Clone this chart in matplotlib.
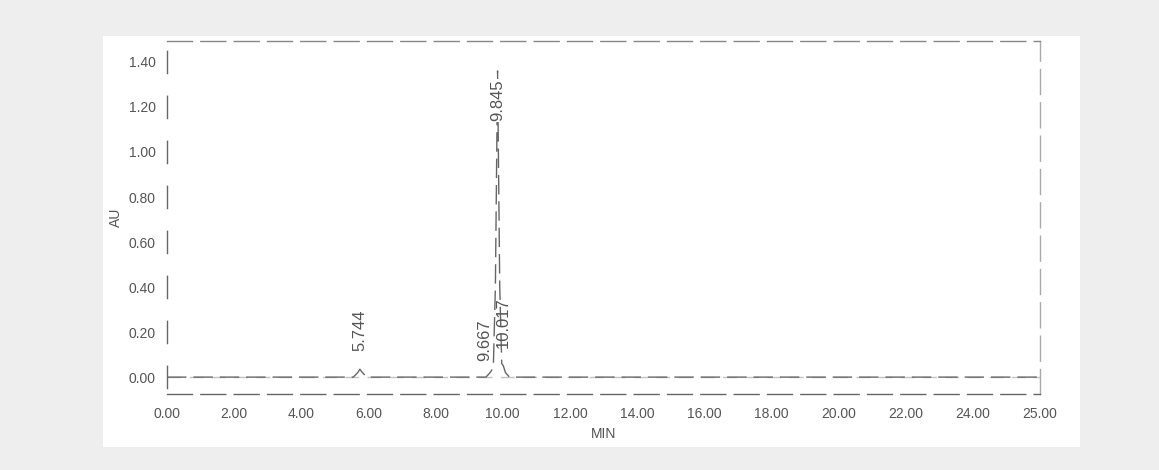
import matplotlib.pyplot as plt
import matplotlib.patches as patches

plt.rcParams['font.family'] = ['Liberation Sans', 'DejaVu Sans']

# chromatogram trace (minutes, AU)
times = [0.0, 0.4, 5.55, 5.68, 5.744, 5.82, 5.95, 9.5, 9.62, 9.667, 9.72, 9.78,
         9.845, 9.91, 9.97, 10.017, 10.08, 10.2, 26.0]
absorb = [0.0, 0.0, 0.0, 0.02, 0.035, 0.02, 0.0, 0.0, 0.02, 0.03, 0.05, 0.4,
          1.36, 0.4, 0.06, 0.05, 0.02, 0.0, 0.0]

peak_lbl = ['5.744', '9.667', '10.017', '9.845']
# label anchor positions (min, AU) as printed on the scan
peak_lbl_x = [5.744, 9.47, 10.02, 9.845]
peak_lbl_y = [0.21, 0.165, 0.24, 1.23]

xtick_pos = [0, 2, 4, 6, 8, 10, 12, 14, 16, 18, 20, 22, 24, 26]
xtick_lbl = ['0.00', '2.00', '4.00', '6.00', '8.00', '10.00', '12.00', '14.00',
             '16.00', '18.00', '20.00', '22.00', '24.00', '25.00']
ytick_pos = [0.0, 0.2, 0.4, 0.6, 0.8, 1.0, 1.2, 1.4]
ytick_lbl = ['0.00', '0.20', '0.40', '0.60', '0.80', '1.00', '1.20', '1.40']

fig = plt.figure(figsize=(11.59, 4.70), dpi=100)
fig.patch.set_facecolor('#eeeeee')
# white paper area of the scan
paper = patches.Rectangle((103 / 1159, 1 - 447 / 470), (1080 - 103) / 1159,
                          (447 - 36) / 470, transform=fig.transFigure,
                          facecolor='white', edgecolor='none', zorder=-10)
fig.add_artist(paper)

ax = fig.add_axes([167 / 1159, 1 - 394 / 470, 873 / 1159, 353 / 470])
ax.set_facecolor('none')
ax.set_xlim(0, 26)
ax.set_ylim(-0.075, 1.493)

# baseline (faint, dashed)
ax.axhline(0, color='#c4c4c4', lw=1, ls=(0, (10, 6)), zorder=1)
ax.plot(times, absorb, color='#666666', lw=1.0, ls=(0, (14, 5)), zorder=2)

for lx, ly, lbl in zip(peak_lbl_x, peak_lbl_y, peak_lbl):
    ax.text(lx, ly, lbl, rotation=90, ha='center', va='center', fontsize=12,
            color='#555555', zorder=3,
            bbox=dict(facecolor='white', edgecolor='none', pad=0.5) if lbl == '9.845' else None)

ax.set_xticks(xtick_pos)
ax.set_xticklabels(xtick_lbl)
ax.set_yticks(ytick_pos)
ax.set_yticklabels(ytick_lbl)
ax.tick_params(axis='both', length=0, labelsize=10, labelcolor='#555555')
ax.tick_params(axis='x', pad=9)
ax.tick_params(axis='y', pad=8)

for side in ['top', 'right', 'bottom', 'left']:
    ax.spines[side].set_linewidth(1.0)
    ax.spines[side].set_linestyle((0, (18, 6)))
ax.spines['top'].set_color('#888888')
ax.spines['bottom'].set_color('#666666')
ax.spines['right'].set_color('#aaaaaa')
ax.spines['left'].set_color('#666666')
# short segments centred on each y tick
ax.spines['left'].set_linestyle((28.1, (16, 16.4)))

ax.set_xlabel('MIN', fontsize=10, color='#555555', labelpad=5)
ax.set_ylabel('AU', fontsize=10, color='#555555', labelpad=4)

fig.savefig('out.png', dpi=100, facecolor=fig.get_facecolor())
